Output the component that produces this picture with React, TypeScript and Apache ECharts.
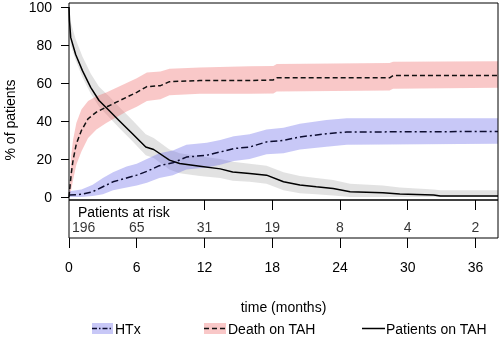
import React, { useEffect, useRef } from "react";
import * as echarts from "echarts";

// Patients on TAH (Kaplan-Meier, black solid)
const tahT = [0, 0.04, 0.15, 0.59, 1.19, 1.92, 2.66, 3.55, 4.43, 5.6, 6.8, 7.5, 8.9, 9.8, 11.6, 13.4, 14.5, 16, 17.5, 19, 20.45, 21.9, 23.4, 24.9, 27.8, 29.3, 32.3, 32.9, 38];
const tahV = [100, 93, 84, 75, 66.5, 57.7, 50.8, 45.5, 40.3, 33.4, 26.3, 25, 19.4, 17.6, 16.2, 14.8, 13.2, 12.4, 11.5, 8, 6.3, 5.4, 4.5, 2.8, 2.3, 1.6, 1, 0.5, 0.5];
const tahUp = [100, 100, 92, 83, 74, 65, 58, 53, 47.5, 40.5, 33, 31, 25, 23, 21.5, 20, 18.5, 17.5, 16.5, 13, 11, 10, 9, 7, 6, 5, 4, 3.5, 3.5];
const tahLo = [100, 90, 80, 72, 63, 54.5, 47.5, 42, 36.5, 29.5, 22, 20.5, 14.5, 12.5, 11, 10, 8.5, 8, 7, 3.5, 2, 1.5, 0.8, 0, 0, 0, 0, 0, 0];

// Death on TAH (red dashed)
const deathT = [0, 0.2, 0.36, 0.65, 1.1, 1.69, 2.43, 3.3, 4.2, 5.1, 6.0, 6.9, 8.1, 8.9, 11.6, 16, 18.1, 18.4, 28.4, 28.7, 38];
const deathV = [0, 12.4, 19.4, 28, 35, 41.2, 44.7, 47.3, 49.9, 52.5, 55.1, 58.1, 58.6, 60.7, 61.3, 61.3, 61.6, 62.7, 62.7, 63.9, 63.9];
const deathUp = [0, 22, 30, 39, 46, 50.5, 53, 55, 57.5, 60, 62.5, 65.5, 66, 67.5, 68.2, 68.8, 69, 70, 70.5, 71.2, 71.5];
const deathLo = [0, 4, 9, 17, 24, 31, 35.5, 39, 42, 45, 47.5, 50.5, 51.5, 53.5, 54.3, 54.3, 54.5, 55.5, 56, 57, 57.5];

// HTx (blue dash-dot)
const htxT = [0, 1.1, 2.1, 3.0, 3.9, 5.1, 6.0, 6.9, 8.0, 9.2, 10.4, 12.2, 13.4, 14.6, 16, 17.5, 19, 20.45, 22.8, 24.6, 38];
const htxV = [1, 1.4, 2.8, 5.4, 8, 10, 11.5, 13.5, 16.5, 18, 21, 22, 23.7, 25.5, 26.3, 29, 29.8, 31.6, 33.3, 34.2, 34.5];
const htxUp = [3, 4, 6.5, 10, 13, 16, 17.5, 20, 23, 24.5, 27.5, 28.5, 30, 32, 33, 35.5, 36.5, 38.5, 40.5, 41.5, 41.5];
const htxLo = [0, 0, 0.5, 1.5, 3.5, 5, 6, 7.5, 10, 11.5, 14.5, 15.5, 17, 19, 20, 22.5, 23, 25, 26.5, 27.5, 28];

// Patients at risk
const riskTimes = [0, 6, 12, 18, 24, 30, 36];
const riskCounts = ["196", "65", "31", "19", "8", "4", "2"];
const yTicks = [0, 20, 40, 60, 80, 100];

const FONT = "'Liberation Sans', Arial, sans-serif";
const RED_BAND = "rgba(240,110,110,0.38)";
const BLUE_BAND = "rgba(110,110,235,0.38)";
const GREY_BAND = "rgba(180,180,180,0.38)";

function band(t: number[], up: number[], lo: number[], color: string, name: string) {
  return {
    type: "custom",
    name,
    xAxisIndex: 0,
    yAxisIndex: 0,
    silent: true,
    z: 1,
    data: [[0, 0]],
    renderItem: (_p: any, api: any) => {
      const pts: number[][] = [];
      for (let i = 0; i < t.length; i++) pts.push(api.coord([t[i], up[i]]));
      for (let i = t.length - 1; i >= 0; i--) pts.push(api.coord([t[i], lo[i]]));
      return { type: "polygon", shape: { points: pts }, style: { fill: color } };
    },
  };
}

function line(t: number[], v: number[], color: string, dash: any, name: string) {
  return {
    type: "line",
    name,
    xAxisIndex: 0,
    yAxisIndex: 0,
    data: t.map((x, i) => [x, v[i]]),
    showSymbol: false,
    symbol: "none",
    z: 3,
    lineStyle: { color, width: 1.5, type: dash },
  };
}

export default function App() {
  const ref = useRef<HTMLDivElement>(null);
  useEffect(() => {
    if (!ref.current) return;
    const chart = echarts.init(ref.current, undefined, { renderer: "svg" });
    const legendY = 328.5;
    chart.setOption({
      animation: false,
      textStyle: { fontFamily: FONT },
      grid: [
        { left: 69, top: 6, width: 429, height: 191, show: false },
        { left: 69, top: 200, width: 429, height: 38, show: true, borderColor: "#000", borderWidth: 1, backgroundColor: "transparent" },
      ],
      xAxis: [
        { type: "value", gridIndex: 0, min: 0, max: 38, show: false },
        {
          type: "value", gridIndex: 1, min: 0, max: 38, interval: 6, position: "bottom",
          axisLine: { show: false }, splitLine: { show: false },
          axisTick: { show: true, length: 10, lineStyle: { color: "#000" } },
          axisLabel: { margin: 22, fontSize: 14, color: "#000", fontFamily: FONT, showMaxLabel: false },
          name: "time (months)", nameLocation: "middle", nameGap: 62,
          nameTextStyle: { fontSize: 14, color: "#000", fontFamily: FONT },
        },
        {
          type: "value", gridIndex: 1, min: 0, max: 38, interval: 6, position: "top",
          axisLine: { show: false }, splitLine: { show: false },
          axisTick: { show: true, inside: true, length: 10, customValues: [12, 18, 24, 30, 36], lineStyle: { color: "#000" } },
          axisLabel: { show: false },
        },
      ],
      yAxis: [
        {
          type: "value", gridIndex: 0, min: yTicks[0], max: yTicks[yTicks.length - 1], interval: 20,
          axisLine: { show: false }, splitLine: { show: false },
          axisTick: { show: true, length: 8, lineStyle: { color: "#000" } },
          axisLabel: { margin: 17, fontSize: 14, color: "#000", fontFamily: FONT },
        },
        { type: "value", gridIndex: 1, min: 0, max: 1, show: false },
      ],
      series: [
        band(tahT, tahUp, tahLo, GREY_BAND, "Patients on TAH CI"),
        band(deathT, deathUp, deathLo, RED_BAND, "Death on TAH CI"),
        band(htxT, htxUp, htxLo, BLUE_BAND, "HTx CI"),
        line(tahT, tahV, "#000", "solid", "Patients on TAH"),
        line(deathT, deathV, "#111", [5, 3], "Death on TAH"),
        line(htxT, htxV, "#0c0c30", [7, 3, 2, 3], "HTx"),
        {
          type: "scatter",
          xAxisIndex: 1,
          yAxisIndex: 1,
          symbolSize: 0,
          silent: true,
          data: riskTimes.map((t, i) => ({
            value: [t, 0.28],
            label: i === 0 ? { align: "left", offset: [3, 0] } : {},
          })),
          label: {
            show: true,
            position: "inside",
            fontSize: 14,
            lineHeight: 12,
            color: "#000",
            fontFamily: FONT,
            formatter: (p: any) => riskCounts[p.dataIndex],
          },
        },
      ],
      graphic: [
        { type: "rect", shape: { x: 69, y: 3, width: 429, height: 197 }, style: { fill: "none", stroke: "#000", lineWidth: 1 }, z: 10 },
        { type: "text", x: 78, y: 212, style: { text: "Patients at risk", fontSize: 14, lineHeight: 12, fill: "#000", fontFamily: FONT, textVerticalAlign: "middle" } },
        { type: "text", x: 10, y: 120, rotation: Math.PI / 2, style: { text: "% of patients", fontSize: 14, fill: "#000", fontFamily: FONT, textAlign: "center", textVerticalAlign: "middle" } },
        // legend
        { type: "rect", shape: { x: 92, y: 323, width: 21, height: 11 }, style: { fill: BLUE_BAND } },
        { type: "line", shape: { x1: 92, y1: legendY, x2: 113, y2: legendY }, style: { stroke: "#0c0c30", lineWidth: 1.5, lineDash: [5, 2, 1.5, 2] } },
        { type: "text", x: 115, y: legendY, style: { text: "HTx", fontSize: 14, fill: "#000", fontFamily: FONT, textVerticalAlign: "middle" } },
        { type: "rect", shape: { x: 204, y: 323, width: 22, height: 11 }, style: { fill: RED_BAND } },
        { type: "line", shape: { x1: 204, y1: legendY, x2: 226, y2: legendY }, style: { stroke: "#111", lineWidth: 1.5, lineDash: [5, 3] } },
        { type: "text", x: 228, y: legendY, style: { text: "Death on TAH", fontSize: 14, fill: "#000", fontFamily: FONT, textVerticalAlign: "middle" } },
        { type: "line", shape: { x1: 362, y1: legendY, x2: 385, y2: legendY }, style: { stroke: "#000", lineWidth: 1.5 } },
        { type: "text", x: 386, y: legendY, style: { text: "Patients on TAH", fontSize: 14, fill: "#000", fontFamily: FONT, textVerticalAlign: "middle" } },
      ],
    });
    return () => chart.dispose();
  }, []);
  return <div ref={ref} style={{ position: "fixed", left: 0, top: 0, width: 500, height: 339 }} />;
}
